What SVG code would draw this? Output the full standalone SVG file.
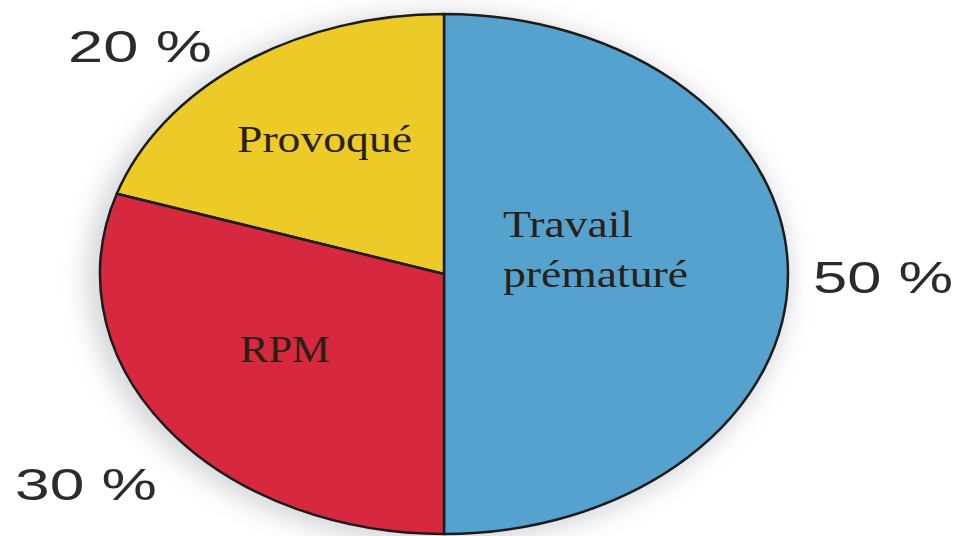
<svg xmlns="http://www.w3.org/2000/svg" width="958" height="536" viewBox="0 0 958 536">
  <defs>
    <filter id="halo" x="-20%" y="-20%" width="140%" height="140%">
      <feGaussianBlur stdDeviation="12"/>
    </filter>
  </defs>
  <style>
    .slice { stroke: #1c1c1c; stroke-width: 2.5; stroke-linejoin: round; }
    .name { font-family: "Liberation Serif", "Times New Roman", serif; font-size: 37px; fill: #2a2016; }
    .pct { font-family: "Liberation Sans", Arial, sans-serif; font-size: 45px; fill: #2b2b2b; }
  </style>
  <rect width="958" height="536" fill="#ffffff"/>

  <!-- soft shadow behind the pie -->
  <ellipse cx="438" cy="278" rx="352" ry="266" fill="#9a9ca8" opacity="0.4" filter="url(#halo)"/>

  <g id="travail-premature">
    <path class="slice" fill="#55a2cf" d="M444,274 L444,14 A344,260 0 0 1 444,534 Z"/>
    <text class="name" x="503" y="237" textLength="130" lengthAdjust="spacingAndGlyphs">Travail</text>
    <text class="name" x="503" y="287" textLength="185" lengthAdjust="spacingAndGlyphs">prématuré</text>
  </g>

  <g id="provoque">
    <path class="slice" fill="#ecca27" d="M444,274 L444,14 A344,260 0 0 0 116.8,193.7 Z"/>
    <text class="name" x="237" y="152" textLength="175" lengthAdjust="spacingAndGlyphs">Provoqué</text>
  </g>

  <g id="rpm">
    <path class="slice" fill="#d6283e" d="M444,274 L116.8,193.7 A344,260 0 0 0 444,534 Z"/>
    <text class="name" x="240" y="362" textLength="90" lengthAdjust="spacingAndGlyphs">RPM</text>
  </g>

  <!-- percentage labels -->
  <g id="percentages">
    <text class="pct" x="68" y="62" textLength="144" lengthAdjust="spacingAndGlyphs">20 %</text>
    <text class="pct" x="813" y="293" textLength="140" lengthAdjust="spacingAndGlyphs">50 %</text>
    <text class="pct" x="15" y="500" textLength="142" lengthAdjust="spacingAndGlyphs">30 %</text>
  </g>
</svg>
